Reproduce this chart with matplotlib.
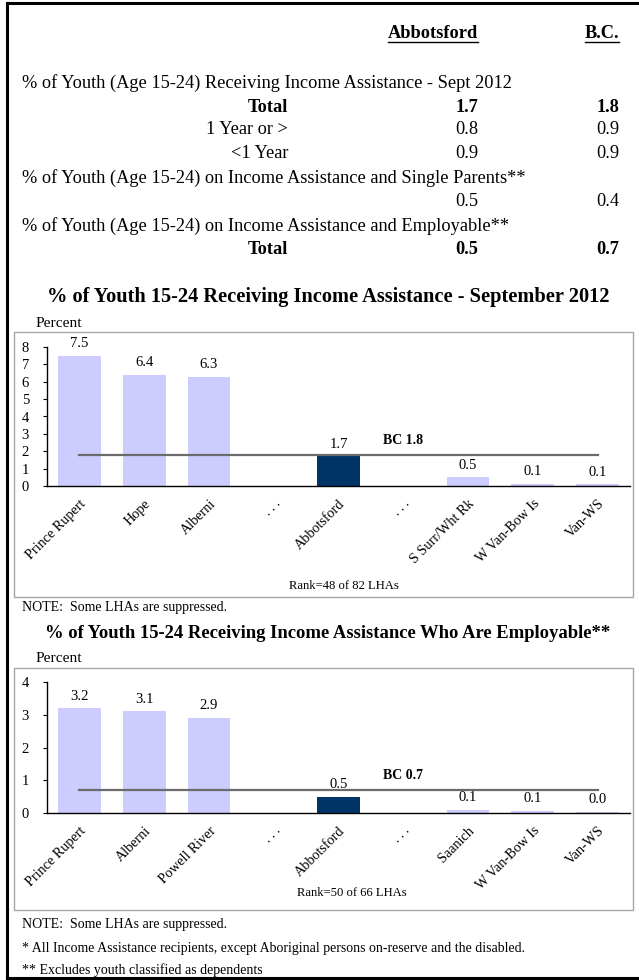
import matplotlib
matplotlib.use("Agg")
import matplotlib.pyplot as plt
from matplotlib.patches import Rectangle
from matplotlib.lines import Line2D

# ---------------- data ----------------
table_header = ["Abbotsford", "B.C."]
table_rows = [
    ("% of Youth (Age 15-24) Receiving Income Assistance - Sept 2012", None, None, "section"),
    ("Total", "1.7", "1.8", "bold"),
    ("1 Year or >", "0.8", "0.9", "normal"),
    ("<1 Year", "0.9", "0.9", "normal"),
    ("% of Youth (Age 15-24) on Income Assistance and Single Parents**", None, None, "section"),
    ("", "0.5", "0.4", "normal"),
    ("% of Youth (Age 15-24) on Income Assistance and Employable**", None, None, "section"),
    ("Total", "0.5", "0.7", "bold"),
]

c1_title = "% of Youth 15-24 Receiving Income Assistance - September 2012"
c1_cats = ["Prince Rupert", "Hope", "Alberni", ". . .", "Abbotsford", ". . .",
           "S Surr/Wht Rk", "W Van-Bow Is", "Van-WS"]
c1_vals = [7.5, 6.4, 6.3, None, 1.7, None, 0.5, 0.13, 0.1]
c1_bc = 1.8
c1_rank = "Rank=48 of 82 LHAs"
c1_yticks = [0, 1, 2, 3, 4, 5, 6, 7, 8]

c2_title = "% of Youth 15-24 Receiving Income Assistance Who Are Employable**"
c2_cats = ["Prince Rupert", "Alberni", "Powell River", ". . .", "Abbotsford", ". . .",
           "Saanich", "W Van-Bow Is", "Van-WS"]
c2_vals = [3.2, 3.1, 2.9, None, 0.5, None, 0.09, 0.06, 0.03]
c2_bc = 0.7
c2_rank = "Rank=50 of 66 LHAs"
c2_yticks = [0, 1, 2, 3, 4]

highlight = "Abbotsford"
note = "NOTE:  Some LHAs are suppressed."
foot1 = "* All Income Assistance recipients, except Aboriginal persons on-reserve and the disabled."
foot2 = "** Excludes youth classified as dependents"

# ---------------- style ----------------
W, H = 639, 980
FONT = "Liberation Serif"
plt.rcParams["font.family"] = [FONT, "DejaVu Serif"]
LIGHT = "#CCCCFF"
DARK = "#003366"

fig = plt.figure(figsize=(W / 100, H / 100), dpi=100)
fig.canvas.draw()
renderer = fig.canvas.get_renderer()


def fx(x):
    return x / W


def fy(y):
    return 1 - y / H


def fitsize(txt, target, **kw):
    t = fig.text(0, 0, txt, fontsize=10, **kw)
    w = t.get_window_extent(renderer).width
    t.remove()
    return 10 * target / w


def ftext(x, y, s, **kw):
    return fig.text(fx(x), fy(y), s, transform=fig.transFigure, **kw)


# outer frame (left, top, bottom)
for (x0, y0, x1, y1) in [(7, 3, 639, 3), (7, 3, 7, 978), (7, 978, 639, 978)]:
    fig.add_artist(Line2D([fx(x0), fx(x1)], [fy(y0), fy(y1)], color="black",
                          lw=2.2, transform=fig.transFigure))

# ---------------- table ----------------
s_tab = fitsize(table_rows[0][0], 487)
hx = [478, 619]
for x, h in zip(hx, table_header):
    t = ftext(x, 33, h, fontsize=s_tab, fontweight="bold", ha="right", va="center")
    w = t.get_window_extent(renderer).width
    fig.add_artist(Line2D([fx(x - w), fx(x)], [fy(42), fy(42)], color="black",
                          lw=1.0, transform=fig.transFigure))

row_y = [83, 107, 130, 154, 178, 202, 226, 249]
for y, (lab, a, b, kind) in zip(row_y, table_rows):
    if kind == "section":
        ftext(22, y, lab, fontsize=s_tab, ha="left", va="center")
    else:
        wt = "bold" if kind == "bold" else "normal"
        if lab:
            ftext(288, y, lab, fontsize=s_tab, fontweight=wt, ha="right", va="center")
        ftext(hx[0], y, a, fontsize=s_tab, fontweight=wt, ha="right", va="center")
        ftext(hx[1], y, b, fontsize=s_tab, fontweight=wt, ha="right", va="center")

# ---------------- charts ----------------
s_pct = fitsize("Percent", 46)
s_rank = fitsize(c1_rank, 110)
s_note = fitsize(note, 205)
s_val = fitsize("7.5", 18)
s_cat = fitsize("Abbotsford", 64)
s_bc = fitsize("BC 1.8", 40, fontweight="bold")


def chart(title, title_w, title_y, pct_y, box, ax_px, cats, vals, ymax, yticks, bc, rank,
          rank_x, rank_y, label_pad):
    s_title = fitsize(title, title_w, fontweight="bold")
    ftext(328, title_y, title, fontsize=s_title, fontweight="bold", ha="center", va="center")
    ftext(36, pct_y, "Percent", fontsize=s_pct, ha="left", va="center")
    bx0, by0, bx1, by1 = box
    fig.add_artist(Rectangle((fx(bx0), fy(by1)), fx(bx1) - fx(bx0), fy(by0) - fy(by1),
                             transform=fig.transFigure, fill=False, edgecolor="#A6A6A6", lw=1.0))
    l, t, r, b = ax_px
    ax = fig.add_axes([fx(l), fy(b), fx(r) - fx(l), fy(t) - fy(b)])
    ax.set_facecolor("none")
    xs = list(range(len(cats)))
    for i, (c, v) in enumerate(zip(cats, vals)):
        if v is None:
            continue
        col = DARK if c == highlight else LIGHT
        ax.bar(i, v, width=0.66, color=col, zorder=2)
        ax.annotate(f"{v:.1f}", (i, v), xytext=(0, 4), textcoords="offset points",
                    ha="center", va="bottom", fontsize=s_val, zorder=4)
    ax.plot([xs[0], xs[-1]], [bc, bc], color="#6B6B6B", lw=1.6, zorder=3)
    ax.text(5, bc + label_pad, f"BC {bc:.1f}", fontsize=s_bc, fontweight="bold",
            ha="center", va="bottom")
    ax.set_xlim(-0.5, len(cats) - 0.5)
    ax.set_ylim(0, ymax)
    ax.set_yticks(yticks)
    ax.set_yticklabels([str(v) for v in yticks], fontsize=s_val)
    ax.set_xticks(xs)
    ax.set_xticklabels(cats, rotation=45, ha="right", va="top", rotation_mode="anchor",
                       fontsize=s_cat)
    ax.tick_params(axis="x", length=0, pad=8)
    ax.tick_params(axis="y", length=3, direction="out", pad=10)
    for sp in ["top", "right"]:
        ax.spines[sp].set_visible(False)
    for sp in ["left", "bottom"]:
        ax.spines[sp].set_color("black")
        ax.spines[sp].set_linewidth(1.0)
    ftext(rank_x, rank_y, rank, fontsize=s_rank, ha="center", va="center")
    return ax


chart(c1_title, 565, 297, 323, (14, 332, 633, 597), (47, 347, 630, 486), c1_cats, c1_vals, 8,
      c1_yticks, c1_bc, c1_rank, 344, 586, 0.45)
ftext(22, 608, note, fontsize=s_note, ha="left", va="center")

chart(c2_title, 567, 634, 659, (14, 668, 633, 910), (47, 682, 630, 813), c2_cats, c2_vals, 4,
      c2_yticks, c2_bc, c2_rank, 352, 893, 0.25)
ftext(22, 924, note, fontsize=s_note, ha="left", va="center")
ftext(22, 948, foot1, fontsize=s_note, ha="left", va="center")
ftext(22, 970, foot2, fontsize=s_note, ha="left", va="center")

fig.savefig("out.png", dpi=100)
